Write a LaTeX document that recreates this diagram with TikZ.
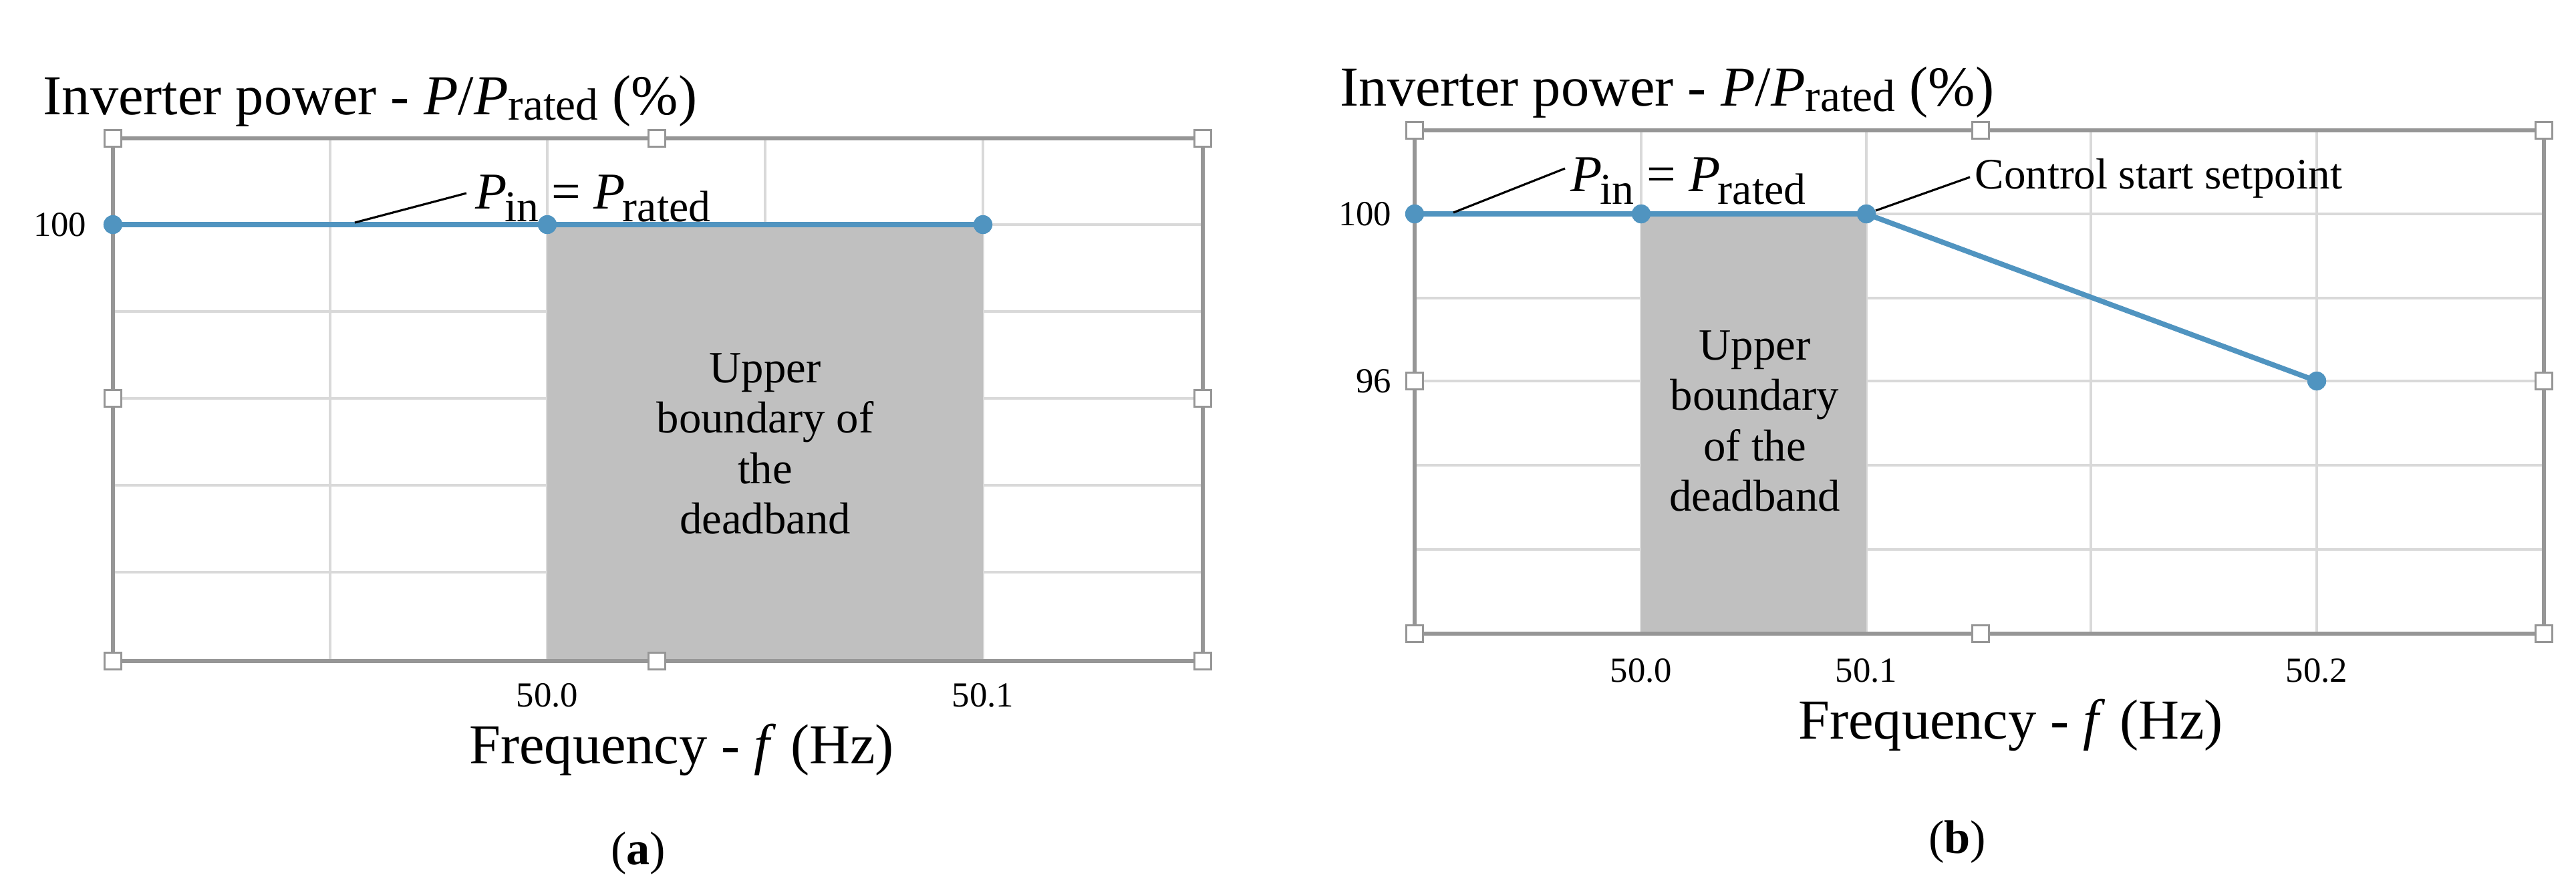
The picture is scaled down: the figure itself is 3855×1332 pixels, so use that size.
\documentclass[tikz,border=0pt]{standalone}
\usepackage{fontspec}
\setmainfont{Liberation Serif}
\definecolor{lineblue}{RGB}{80,148,192}
\definecolor{gridgray}{RGB}{217,217,217}
\definecolor{framegray}{RGB}{150,150,150}
\definecolor{bandgray}{RGB}{192,192,192}
\newcommand{\Psub}[1]{\textit{P}\kern-0.05em\raisebox{-0.25em}{\scalebox{0.85}{#1}}}
\begin{document}
\begin{tikzpicture}[x=0.01cm,y=-0.01cm,
  grid/.style={gridgray,line width=1.2pt},
  frame/.style={framegray,line width=1.5pt},
  curve/.style={lineblue,line width=2.2pt},
  dot/.style={circle,fill=lineblue,inner sep=0pt,minimum size=8pt},
  handle/.style={draw=framegray,fill=white,line width=0.8pt,inner sep=0pt,minimum size=7pt},
  band/.style={fill=bandgray},
  leader/.style={black,line width=0.9pt},
  ttl/.style={font=\fontsize{24}{28}\selectfont,anchor=base west,inner sep=0pt},
  tick/.style={font=\fontsize{15}{18}\selectfont,inner sep=0pt},
  lbl/.style={font=\fontsize{22}{26}\selectfont,anchor=base west,inner sep=0pt},
  bandtxt/.style={font=\fontsize{19}{21.5}\selectfont,align=center,inner sep=0pt},
  axl/.style={font=\fontsize{24}{28}\selectfont,inner sep=0pt},
  captxt/.style={font=\fontsize{20}{24}\selectfont,inner sep=0pt}]
\useasboundingbox (0,0) rectangle (3855,1332);
% ---------- panel (a)
\foreach \x in {494,819,1145,1471} \draw[grid] (\x,207) -- (\x,989);
\foreach \y in {336,466,596,726,856} \draw[grid] (169,\y) -- (1800,\y);
\fill[band] (819,338) rectangle (1471,989);
\draw[frame] (169,207) rectangle (1800,989);
\foreach \p in {(169,207),(983,207),(1800,207),(169,596),(1800,596),(169,989),(983,989),(1800,989)}
  \node[handle] at \p {};
\node[ttl] (ta) at (64,171) {Inverter power - \textit{P}/\textit{P}\raisebox{-0.1em}{\scalebox{0.8}{rated}} (\%)};
\node[tick,anchor=east] (ya) at (130,336) {100};
\node[dot] (a1) at (169,336) {};
\node[dot] (a2) at (819,336) {};
\node[dot] (a3) at (1471,336) {};
\draw[curve] (a1.center) -- (a2.center) -- (a3.center);
\node[dot] at (169,336) {};\node[dot] at (819,336) {};\node[dot] at (1471,336) {};
\coordinate (la) at (531,333);
\node[lbl] (pa) at (711,312) {\Psub{in} = \Psub{rated}};
\draw[leader] (la) -- (698,289);
\node[bandtxt] (ba) at (1145,664) {Upper\\boundary of\\the\\deadband};
\node[tick] (xa1) at (819,1040) {50.0};
\node[tick] (xa2) at (1471,1040) {50.1};
\node[axl] (fa) at (1020,1122) {Frequency - \textit{f} (Hz)};
\node[captxt] (ca) at (955,1277) {(\textbf{a})};
% ---------- panel (b)
\foreach \x in {2456,2793,3129,3467} \draw[grid] (\x,195) -- (\x,948);
\foreach \y in {320,446,570,696,822} \draw[grid] (2117,\y) -- (3807,\y);
\fill[band] (2456,322) rectangle (2793,948);
\draw[frame] (2117,195) rectangle (3807,948);
\foreach \p in {(2117,195),(2964,195),(3807,195),(2117,570),(3807,570),(2117,948),(2964,948),(3807,948)}
  \node[handle] at \p {};
\node[ttl] (tb) at (2005,158) {Inverter power - \textit{P}/\textit{P}\raisebox{-0.1em}{\scalebox{0.8}{rated}} (\%)};
\node[tick,anchor=east] (yb1) at (2083,320) {100};
\node[tick,anchor=east] (yb2) at (2083,570) {96};
\node[dot] (b1) at (2117,320) {};
\node[dot] (b2) at (2456,320) {};
\node[dot] (b3) at (2793,320) {};
\node[dot] (b4) at (3467,570) {};
\draw[curve] (b1.center) -- (b2.center) -- (b3.center) -- (b4.center);
\node[dot] at (2117,320) {};\node[dot] at (2456,320) {};\node[dot] at (2793,320) {};\node[dot] at (3467,570) {};
\coordinate (lb) at (2175,318);
\node[lbl] (pb) at (2350,286) {\Psub{in} = \Psub{rated}};
\draw[leader] (lb) -- (2342,252);
\node[lbl,font=\fontsize{18.5}{22}\selectfont] (cs) at (2955,282) {Control start setpoint};
\draw[leader] (b3) -- (2948,265);
\node[bandtxt] (bb) at (2626,630) {Upper\\boundary\\of the\\deadband};
\node[tick] (xb1) at (2456,1003) {50.0};
\node[tick] (xb2) at (2793,1003) {50.1};
\node[tick] (xb3) at (3467,1003) {50.2};
\node[axl] (fb) at (3009,1085) {Frequency - \textit{f} (Hz)};
\node[captxt] (cb) at (2929,1260) {(\textbf{b})};
\end{tikzpicture}
\end{document}
